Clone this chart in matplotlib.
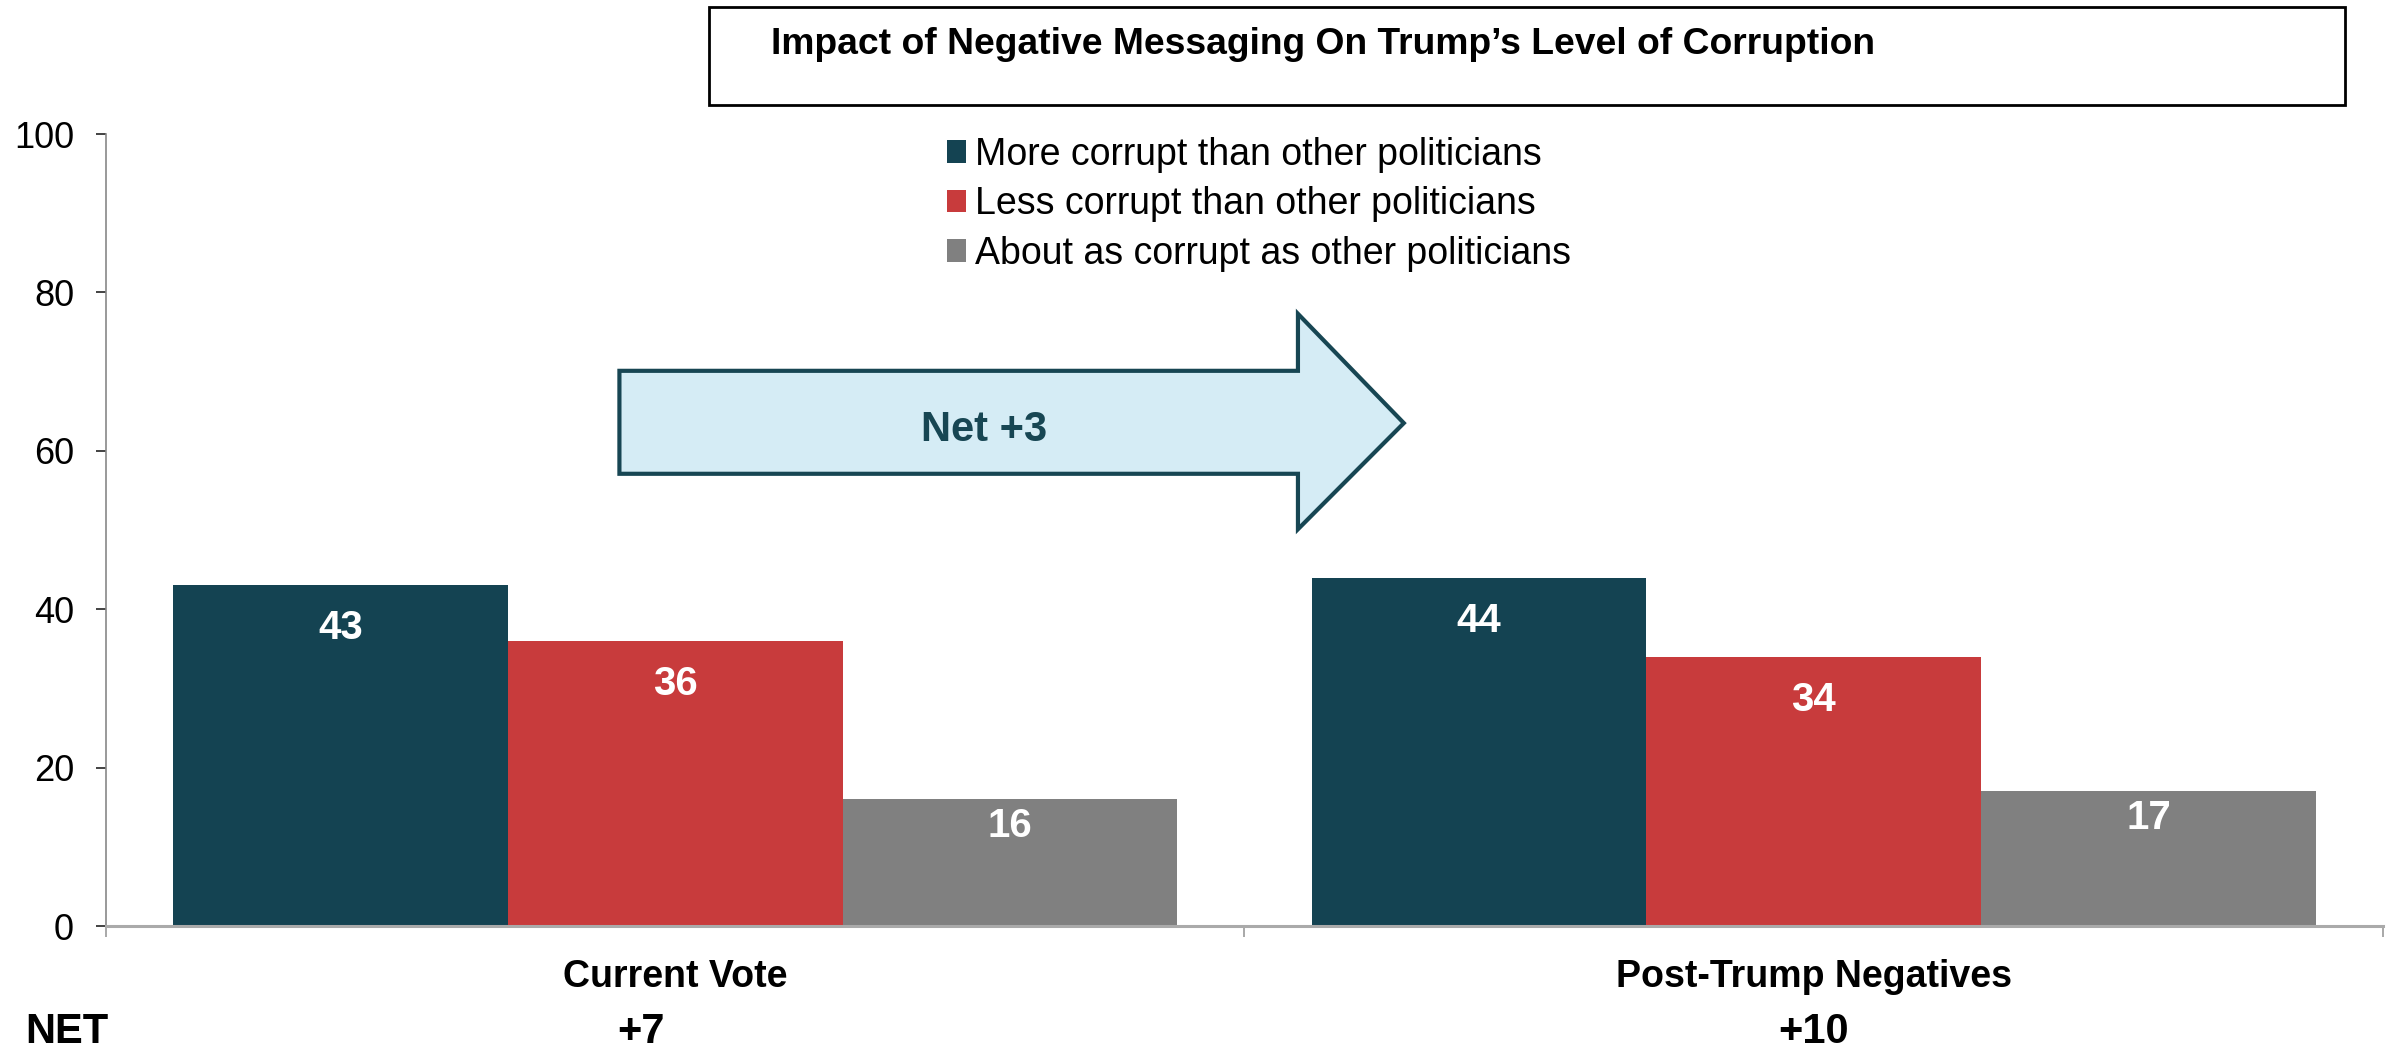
import numpy as np
import matplotlib
matplotlib.use('Agg')
import matplotlib.pyplot as plt
from matplotlib.patches import Rectangle, Polygon
from matplotlib.transforms import blended_transform_factory

plt.rcParams['font.family'] = ['Liberation Sans', 'DejaVu Sans']

# ---------------- data ----------------
categories = ['Current Vote', 'Post-Trump Negatives']
series = ['More corrupt than other politicians',
          'Less corrupt than other politicians',
          'About as corrupt as other politicians']
more_corrupt = [43, 44]
less_corrupt = [36, 34]
about_same = [16, 17]
net_labels = ['+7', '+10']
title = 'Impact of Negative Messaging On Trump\u2019s Level of Corruption'
arrow_label = 'Net +3'

colors = ['#144352', '#C83B3C', '#808080']
values = [more_corrupt, less_corrupt, about_same]

# ---------------- figure ----------------
fig = plt.figure(figsize=(23.92, 10.51), dpi=100)
ax = fig.add_axes([0.0443, 0.1189, 0.9519, 0.7536])

x = np.arange(len(categories))
width = 0.294
offsets = [-width, 0, width]
label_drop = [43, 43, 27]   # px below bar top for value labels

for vals, col, off, name, drop in zip(values, colors, offsets, series, label_drop):
    bars = ax.bar(x + off, vals, width, color=col, label=name, zorder=2)
    for b, v in zip(bars, vals):
        ax.annotate(str(v), (b.get_x() + b.get_width() / 2, v),
                    xytext=(0, -drop * 0.72), textcoords='offset points',
                    ha='center', va='center', color='white',
                    fontsize=29, fontweight='bold', zorder=3)

ax.set_xlim(-0.5, 1.5)
ax.set_ylim(0, 100)
ax.set_yticks(np.arange(0, 101, 20))
ax.tick_params(axis='y', labelsize=26, length=7, width=1.2, color='#222222', pad=16)

ax.set_xticks(x)
ax.set_xticklabels(categories, fontsize=27, fontweight='bold')
ax.set_xticks([-0.5, 0.5, 1.5], minor=True)
ax.tick_params(axis='x', which='major', length=0, pad=24)
ax.tick_params(axis='x', which='minor', length=8, width=1.2, color='#999999')

for s in ['top', 'right']:
    ax.spines[s].set_visible(False)
ax.spines['left'].set_color('#888888')
ax.spines['left'].set_linewidth(1.2)
ax.spines['bottom'].set_color('#AAAAAA')
ax.spines['bottom'].set_linewidth(2.2)
ax.spines['bottom'].set_zorder(4)

# NET row
trans = blended_transform_factory(ax.transData, fig.transFigure)
fig.text(0.0105, 0.018, 'NET', ha='left', va='center', fontsize=30, fontweight='bold')
net_x = [-0.03, 1.0]
for nx, lab in zip(net_x, net_labels):
    ax.text(nx, 0.018, lab, transform=trans, ha='center', va='center',
            fontsize=30, fontweight='bold')

# arrow shape
arrow_pts = [(-0.049, 57.1), (-0.049, 70.1), (0.547, 70.1), (0.547, 77.3),
             (0.640, 63.5), (0.547, 50.1), (0.547, 57.1)]
ax.add_patch(Polygon(arrow_pts, closed=True, facecolor='#D5ECF5',
                     edgecolor='#174653', linewidth=3, zorder=3))
ax.text(0.271, 62.6, arrow_label, ha='center', va='center', fontsize=30,
        fontweight='bold', color='#174653', zorder=4)

# title box
fig.patches.append(Rectangle((0.2964, 0.9001), 0.684, 0.0932, transform=fig.transFigure,
                             facecolor='white', edgecolor='black', linewidth=2))
fig.text(0.3223, 0.958, title, ha='left', va='center', fontsize=26.8, fontweight='bold')

# legend
leg = ax.legend(loc='upper left', bbox_to_anchor=(0.3959, 0.870),
                bbox_transform=fig.transFigure, frameon=False, fontsize=27,
                handlelength=0.5, handleheight=0.55, handletextpad=0.25,
                labelspacing=0.36, borderpad=0, borderaxespad=0)

fig.savefig('out.png', dpi=100)
